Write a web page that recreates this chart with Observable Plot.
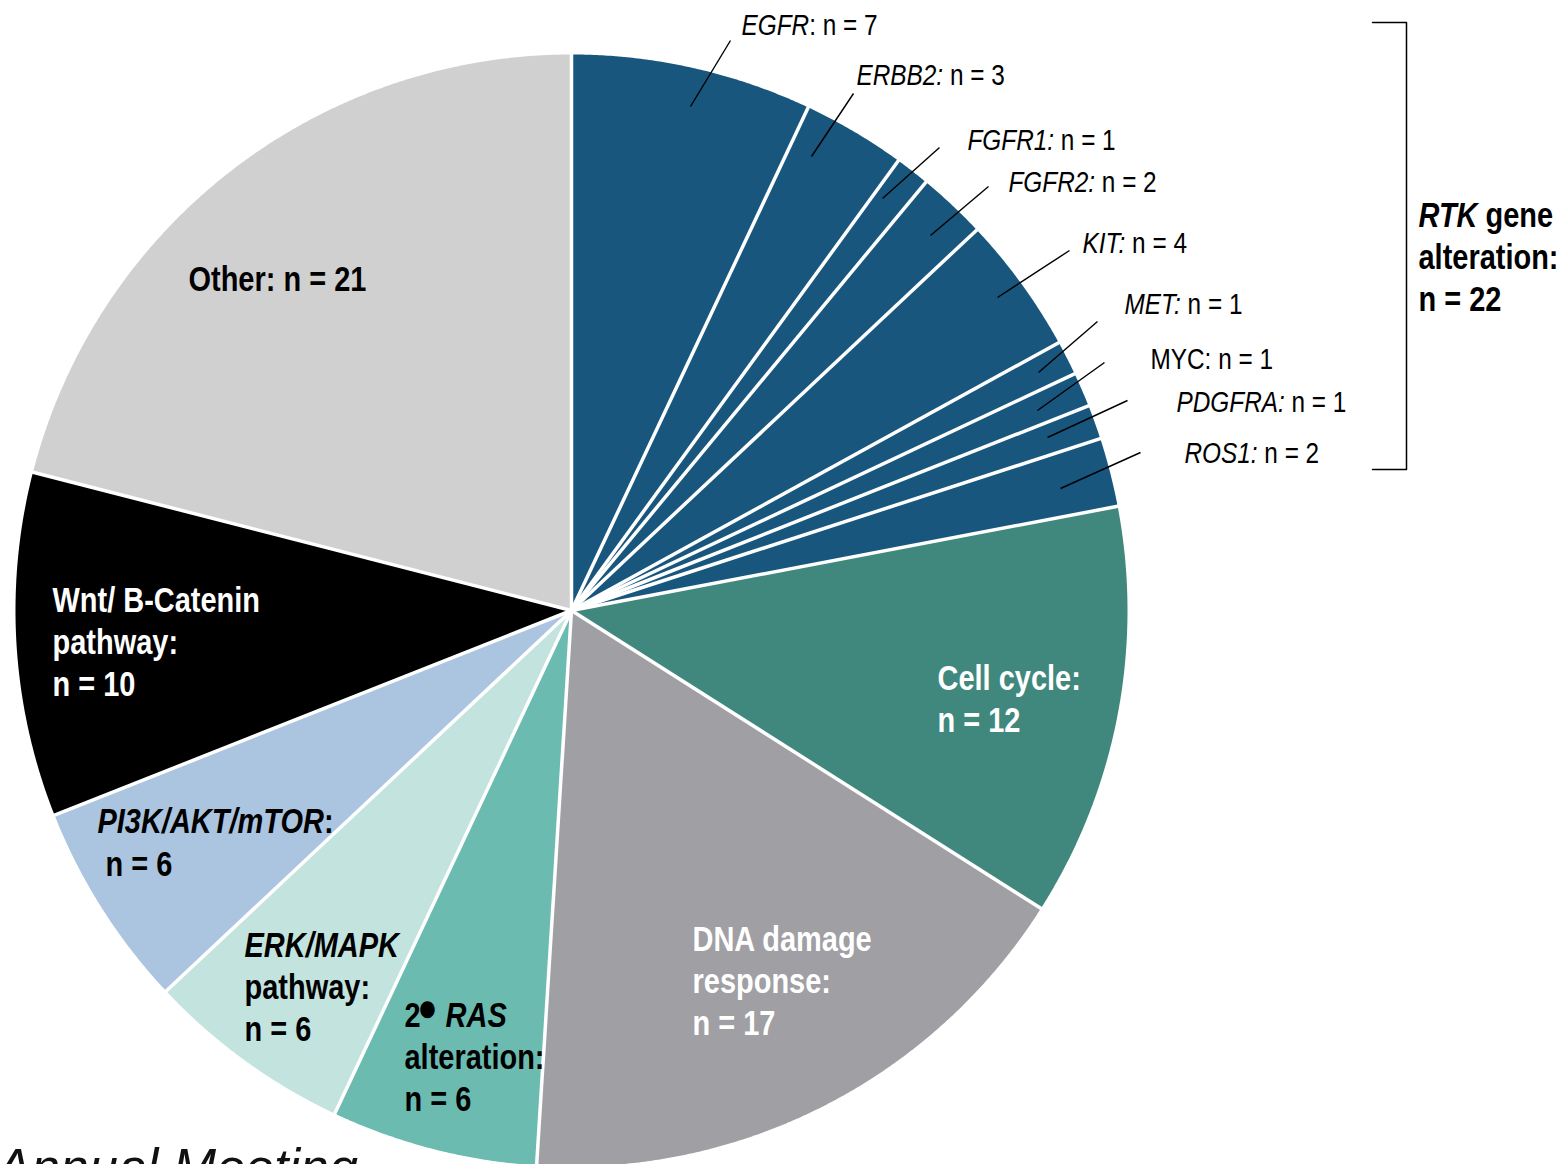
<!DOCTYPE html>
<html><head><meta charset="utf-8">
<script src="https://cdn.jsdelivr.net/npm/d3@7"></script>
<script src="https://cdn.jsdelivr.net/npm/@observablehq/plot@0.6"></script>
<style>
html,body{margin:0;padding:0;overflow:hidden;background:#fff;}
#chart svg{display:block;}
</style></head><body><div id="chart"></div>
<script>
// ---- DATA ----
const categories = ["EGFR","ERBB2","FGFR1","FGFR2","KIT","MET","MYC","PDGFRA","ROS1",
  "Cell cycle","DNA damage response","RAS alteration","ERK/MAPK pathway","PI3K/AKT/mTOR","Wnt/ B-Catenin pathway","Other"];
const counts = [7,3,1,2,4,1,1,1,2,12,17,6,6,6,10,21];
const groups = ["RTK","RTK","RTK","RTK","RTK","RTK","RTK","RTK","RTK",
  "Cell cycle","DNA damage","RAS","ERK/MAPK","PI3K","Wnt","Other"];
const groupNames = ["RTK","Cell cycle","DNA damage","RAS","ERK/MAPK","PI3K","Wnt","Other"];
const groupColors = ["#18567e","#40887d","#a09fa4","#6bbbb0","#c3e3de","#abc5e0","#000000","#d0d0d0"];

// labels (italic segments marked with _..._)
const rtkLabels = ["_EGFR_: n = 7","_ERBB2:_ n = 3","_FGFR1:_ n = 1","_FGFR2:_ n = 2","_KIT:_ n = 4",
  "_MET:_ n = 1","MYC: n = 1","_PDGFRA:_ n = 1","_ROS1:_ n = 2"];
const groupLabels = ["_RTK_ gene\nalteration:\nn = 22","Cell cycle:\nn = 12","DNA damage\nresponse:\nn = 17",
  "2_●_ _RAS_\nalteration:\nn = 6","_ERK/MAPK_\npathway:\nn = 6","_PI3K/AKT/mTOR_:"," n = 6",
  "Wnt/ B-Catenin\npathway:\nn = 10","Other: n = 21"];
const footer = ["Annual Meeting"];

// ---- LAYOUT ----
const W = 1565, H = 1164, CX = 571, CY = 610, R = 556;
const rtkLabelPos = [[741,14],[856,64],[967,129],[1008,171],[1082,232],[1124,293],[1150,348],[1176,391],[1184,442]];
const leaderStart = [[690,106],[811,156],[882,198],[930,235],[997,297],[1038,372],[1037,410],[1047,437],[1060,488]];
const leaderEnd = [[730,40],[853,93],[939,147],[988,186],[1069,250],[1097,321],[1104,362],[1127,400],[1140,452]];
const groupLabelPos = [[1418,196],[937,659],[692,920],[404,996],[244,926],[97,802],[97,845],[52,581],[188,260]];
const groupLabelFill = ["#000","#fff","#fff","#000","#000","#000","#000","#fff","#000"];
const SX = 0.84; // narrow face

const rows = categories.map((c,i)=>({cat:c, n:counts[i], color: groupColors[groupNames.indexOf(groups[i])]}));
const arcs = d3.pie().sort(null).value(d=>d.n)(rows);

const poly = [];
arcs.forEach((a,i)=>{
  poly.push({id:i, x:CX, y:CY, color:a.data.color});
  const steps = Math.max(6, Math.ceil((a.endAngle-a.startAngle)/0.005));
  for (let k=0;k<=steps;k++){
    const t = a.startAngle + (a.endAngle-a.startAngle)*k/steps;
    poly.push({id:i, x:CX+R*Math.sin(t), y:CY-R*Math.cos(t), color:a.data.color});
  }
});
const bounds = arcs.map(a=>({x2:CX+(R+4)*Math.sin(a.startAngle), y2:CY-(R+4)*Math.cos(a.startAngle)}));
const leaders = leaderStart.map((s,i)=>({x1:s[0], y1:s[1], x2:leaderEnd[i][0], y2:leaderEnd[i][1]}));
const rtkText = rtkLabels.map((t,i)=>({t, x:rtkLabelPos[i][0], y:rtkLabelPos[i][1]}));
const grpText = groupLabels.map((t,i)=>({t, x:groupLabelPos[i][0], y:groupLabelPos[i][1], f:groupLabelFill[i]}));
const bracket = [{x:1372,y:22},{x:1406,y:22},{x:1406,y:469},{x:1372,y:469}];

const FONT = "'Liberation Sans',Arial,sans-serif";

const chart = Plot.plot({
  width: W, height: H, margin: 0,
  style: {fontFamily: FONT, background: "#fff", overflow: "hidden"},
  x: {domain:[0,W], range:[0,W], axis:null},
  y: {domain:[0,H], range:[0,H], axis:null},
  color: {type:"identity"},
  marks: [
    Plot.line(poly, {x:"x", y:"y", z:"id", fill:"color", stroke:"none", curve:"linear-closed"}),
    Plot.link(bounds, {x1:()=>CX, y1:()=>CY, x2:"x2", y2:"y2", stroke:"white", strokeWidth:3.5}),
    Plot.link(leaders, {x1:"x1", y1:"y1", x2:"x2", y2:"y2", stroke:"black", strokeWidth:1.4}),
    Plot.line(bracket, {x:"x", y:"y", stroke:"black", strokeWidth:1.5}),
    Plot.text(rtkText, {x:"x", y:"y", text:"t", textAnchor:"start", lineAnchor:"top", fontSize:29, fill:"black"}),
    Plot.text(grpText, {x:"x", y:"y", text:"t", textAnchor:"start", lineAnchor:"top", fontSize:34.5, fontWeight:"bold", fill:"f", lineHeight:1.23}),
    Plot.text(footer, {x:()=>-4, y:()=>1148, text:d=>d, textAnchor:"start", lineAnchor:"top", fontSize:52, fontStyle:"italic", fill:"#111"})
  ]
});

// italic spans marked with _..._ ; bullet raised
chart.querySelectorAll("text, tspan").forEach(el=>{
  if (el.children.length) return;
  const s = el.textContent;
  if (!s.includes("_")) return;
  el.textContent = "";
  let shifted = false;
  s.split("_").forEach((seg,i)=>{
    if (!seg) return;
    const ts = document.createElementNS("http://www.w3.org/2000/svg","tspan");
    ts.textContent = seg;
    if (seg === "●") {
      ts.setAttribute("font-size","40"); ts.setAttribute("dy","-6"); ts.setAttribute("dx","-4");
      shifted = true;
    } else {
      if (i%2===1) ts.setAttribute("font-style","italic");
      if (shifted) { ts.setAttribute("dy","6"); shifted = false; }
    }
    el.appendChild(ts);
  });
});
// narrow the label face (Arial Narrow look): scale horizontally about each anchor
chart.querySelectorAll("text").forEach(el=>{
  if (el.textContent.includes("Annual")) return;
  const xs = el.getAttribute("x");
  const ax = (xs && /^-?[\d.]+$/.test(xs)) ? +xs : 0;
  const tr = el.getAttribute("transform")||"";
  el.setAttribute("transform", `${tr} translate(${ax},0) scale(${SX},1) translate(${-ax},0)`);
});
document.getElementById("chart").appendChild(chart);
</script></body></html>
